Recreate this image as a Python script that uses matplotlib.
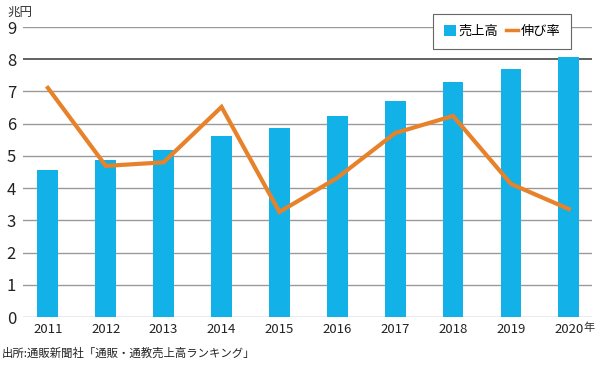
import matplotlib
matplotlib.use("Agg")
import matplotlib.pyplot as plt
from matplotlib.patches import Patch
from matplotlib.lines import Line2D

plt.rcParams['font.family'] = ['Noto Sans CJK JP', 'DejaVu Sans']

years = ['2011', '2012', '2013', '2014', '2015', '2016', '2017', '2018', '2019', '2020']
sales = [4.57, 4.87, 5.19, 5.63, 5.87, 6.24, 6.71, 7.28, 7.71, 8.07]
growth = [7.11, 4.69, 4.80, 6.52, 3.26, 4.32, 5.71, 6.24, 4.13, 3.35]
yticks = [0, 1, 2, 3, 4, 5, 6, 7, 8, 9]

bar_color = '#12B1E8'
line_color = '#E8822A'

fig = plt.figure(figsize=(6.0, 3.66), dpi=100)
ax = fig.add_axes([23/600, 1-317/366, (592-23)/600, (317-27)/366])

x = list(range(len(years)))
for t in yticks:
    ax.axhline(t, color='#555555' if t == 8 else '#9a9a9a', lw=1.3 if t == 8 else 1.0, zorder=0)
ax.bar(x, sales, width=0.36, color=bar_color, zorder=2)
ax.plot(x, growth, color=line_color, lw=3.0, zorder=3, solid_joinstyle='miter')

ax.set_xlim(-0.43, 9.4)
ax.set_ylim(0, 9)
for s in ax.spines.values():
    s.set_visible(False)
ax.set_yticks(yticks)
ax.set_yticklabels([str(t) for t in yticks], fontsize=12, color='#222222')
ax.set_xticks(x)
ax.set_xticklabels(years, fontsize=9.5, color='#222222')
ax.tick_params(axis='both', length=0)
ax.tick_params(axis='y', pad=5)
ax.tick_params(axis='x', pad=4)

fig.text(7/600, 1-12/366, '兆円', fontsize=9, va='center', ha='left', color='#333333')
fig.text(583/600, 1-328/366, '年', fontsize=8, va='center', ha='left', color='#333333')
fig.text(2/600, 1-353/366, '出所:通販新聞社「通販・通教売上高ランキング」', fontsize=8.2,
         va='center', ha='left', color='#222222')

handles = [Patch(facecolor=bar_color, edgecolor='none'),
           Line2D([0], [0], color=line_color, lw=2.5)]
leg = ax.legend(handles, ['売上高', '伸び率'], loc='center',
                bbox_to_anchor=(502/600, 1-31.5/366), bbox_transform=fig.transFigure,
                ncol=2, fontsize=9.5, frameon=True, fancybox=False,
                handlelength=0.9, handleheight=0.9, handletextpad=0.2, columnspacing=0.6,
                borderpad=0.8, borderaxespad=0)
leg.get_frame().set_edgecolor('#666666')
leg.get_frame().set_linewidth(0.8)
leg.get_frame().set_facecolor('white')
leg.get_frame().set_alpha(1)
leg.set_zorder(5)

fig.savefig('out.png', dpi=100)
